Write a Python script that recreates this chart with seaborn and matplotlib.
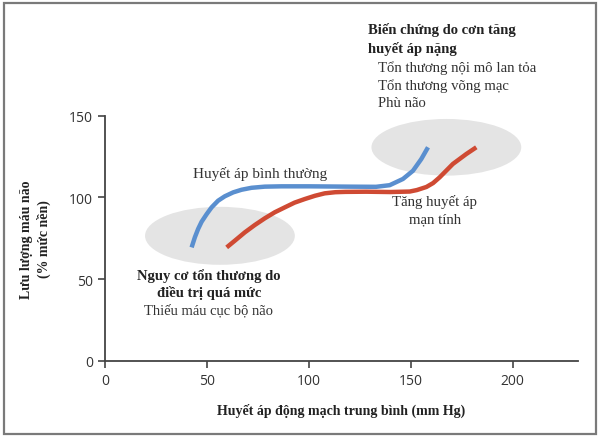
import numpy as np
import pandas as pd
import seaborn as sns
from matplotlib import pyplot as plt
from matplotlib.patches import Ellipse, Rectangle

# values
normal_x = [42.5, 44.1, 45.7, 47.4, 49.9, 52.3, 55.5, 58.8, 62.9, 67.0, 71.9, 78.4, 86.6, 100.0,
            120.0, 133.0, 139.7, 146.2, 151.1, 155.2, 158.5]
normal_y = [69.4, 75.6, 80.7, 85.1, 89.8, 93.9, 98.0, 100.7, 103.1, 104.7, 105.9, 106.6, 106.8, 106.8,
            106.6, 106.5, 107.5, 111.3, 116.3, 123.5, 130.7]
chronic_x = [59.7, 63.7, 68.6, 73.5, 78.4, 83.3, 88.2, 93.0, 98.0, 103.0, 107.8, 113.0, 118.0,
             128.3, 140.0, 149.5, 153.0, 157.7, 161.0, 164.2, 170.7, 177.3, 182.2]
chronic_y = [69.4, 73.5, 78.6, 83.1, 87.2, 90.9, 93.9, 96.8, 99.0, 101.0, 102.5, 103.2, 103.4,
             103.5, 103.3, 103.6, 104.5, 106.4, 108.8, 112.3, 120.5, 126.6, 130.7]
x_ticks = [0, 50, 100, 150, 200]
y_ticks = [0, 50, 100, 150]

sns.set_style("ticks")
plt.rcParams['font.family'] = ['Liberation Serif', 'DejaVu Serif']

fig = plt.figure(figsize=(6, 4.39), dpi=100)
ax = fig.add_axes([0.175, 0.176, 0.788, 0.558])

# grey zones
ax.add_patch(Ellipse((56.4, 76.5), 73.5, 35.5, color="#e4e4e4", zorder=1, lw=0))
ax.add_patch(Ellipse((167.5, 130.7), 73.5, 34.7, color="#e4e4e4", zorder=1, lw=0))

df_n = pd.DataFrame({"x": normal_x, "y": normal_y})
df_c = pd.DataFrame({"x": chronic_x, "y": chronic_y})
sns.lineplot(data=df_n, x="x", y="y", sort=False, color="#5a8fcf", lw=3.2, ax=ax, zorder=3,
             solid_capstyle="butt", solid_joinstyle="round")
sns.lineplot(data=df_c, x="x", y="y", sort=False, color="#cf4a33", lw=3.2, ax=ax, zorder=3,
             solid_capstyle="butt", solid_joinstyle="round")

ax.set_xlim(0, 232)
ax.set_ylim(0, 150)
ax.set_xticks(x_ticks)
ax.set_yticks(y_ticks)
sns.despine(ax=ax)
for s in ["left", "bottom"]:
    ax.spines[s].set_color("#444444")
    ax.spines[s].set_linewidth(1.3)
ax.tick_params(colors="#444444", width=1.2, length=5, labelsize=10, labelcolor="#333333")
for lab in ax.get_xticklabels() + ax.get_yticklabels():
    lab.set_fontfamily("Open Sans")

ax.set_xlabel("Huyết áp động mạch trung bình (mm Hg)", fontsize=10, fontweight="bold",
              color="#222222", labelpad=11)
ax.set_ylabel("Lưu lượng máu não\n(% mức nền)", fontsize=10, fontweight="bold",
              color="#222222", labelpad=13)
ax.yaxis.label.set_linespacing(1.4)

txt = "#333333"
ax.text(76, 115, "Huyết áp bình thường", fontsize=11, color=txt, ha="center", va="center")
ax.text(161.8, 92.4, "Tăng huyết áp\nmạn tính", fontsize=10.7, color=txt, ha="center", va="center",
        linespacing=1.4)
ax.text(51, 47.2, "Nguy cơ tổn thương do\nđiều trị quá mức", fontsize=10.5, fontweight="bold",
        color="#222222", ha="center", va="center", linespacing=1.3)
ax.text(51, 31, "Thiếu máu cục bộ não", fontsize=10.5, color=txt, ha="center", va="center")
ax.text(128.9, 197.3, "Biến chứng do cơn tăng\nhuyết áp nặng", fontsize=10.5, fontweight="bold",
        color="#222222", ha="left", va="center", linespacing=1.4, clip_on=False)
ax.text(133.8, 169.1, "Tổn thương nội mô lan tỏa\nTổn thương võng mạc\nPhù não", fontsize=10.6,
        color=txt, ha="left", va="center", linespacing=1.38, clip_on=False)

# outer frame
fig.patches.append(Rectangle((0.006, 0.01), 0.988, 0.98, transform=fig.transFigure,
                             fill=False, edgecolor="#7a7a7a", lw=1.6))

plt.savefig("out.png", dpi=100)
